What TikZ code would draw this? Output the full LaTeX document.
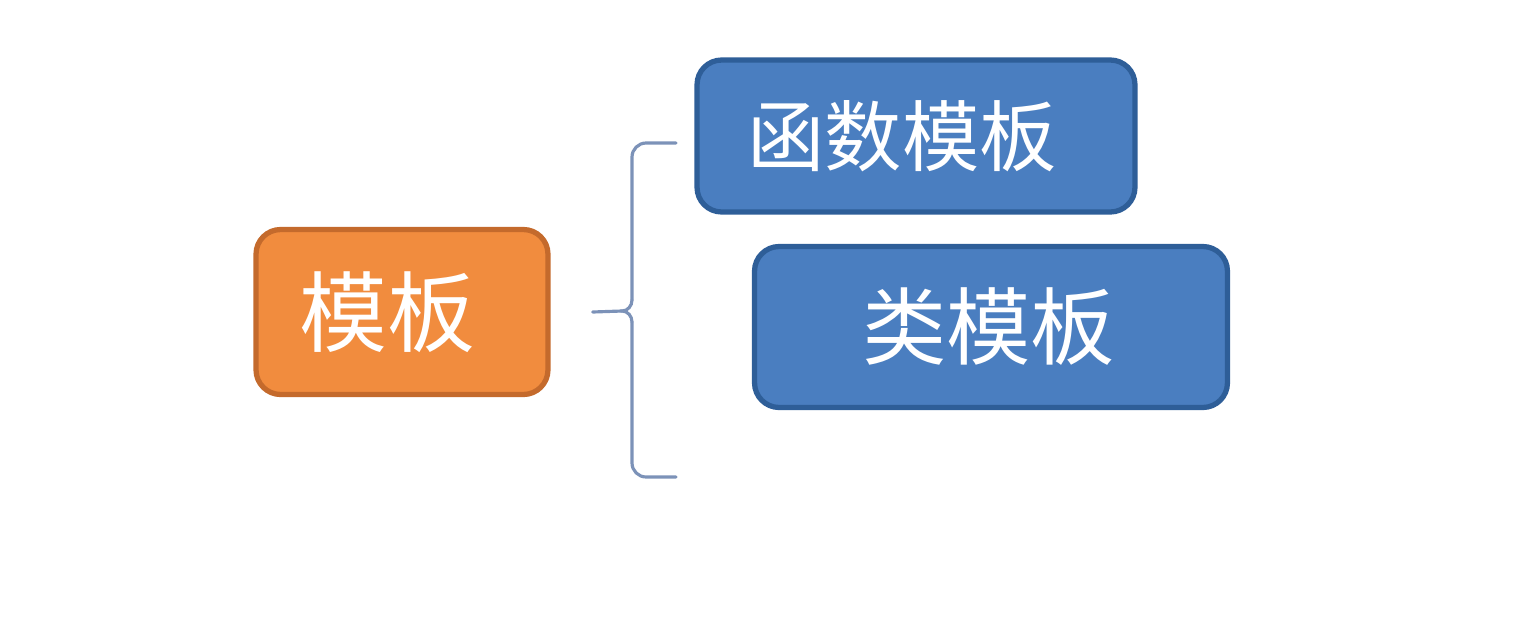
\documentclass[tikz,border=0pt]{standalone}
\usepackage{fontspec}
\usepackage{xcolor}
\newfontfamily\cjk{Noto Sans CJK SC}
\usetikzlibrary{positioning, calc}
\definecolor{rootfill}{HTML}{F18C3E}
\definecolor{rootline}{HTML}{C46A2C}
\definecolor{leaffill}{HTML}{4A7EC0}
\definecolor{leafline}{HTML}{2E5E98}
\definecolor{braceline}{HTML}{7C92B8}
\tikzstyle{root}  = [rectangle, rounded corners=14pt, minimum width=5.84cm, minimum height=3.3cm, text centered, draw=rootline, line width=3pt, fill=rootfill, text=white, font=\cjk\fontsize{50}{54}\selectfont]
\tikzstyle{leaf}  = [rectangle, rounded corners=14pt, minimum height=3.1cm, text centered, draw=leafline, line width=3pt, fill=leaffill, text=white, font=\cjk\fontsize{44}{48}\selectfont]
\tikzstyle{brace} = [draw=braceline, line width=1.8pt, line cap=round]

\begin{document}
\begin{tikzpicture}[x=0.02cm, y=-0.02cm]
    \useasboundingbox (0,0) rectangle (1536,640);
    \node (tpl)  [root] at (402,312) {模板\kern0.6cm};
    \node (ftpl) [leaf, minimum width=8.76cm, minimum height=3.04cm] at (916,136) {函数模板\kern0.55cm};
    \node (ctpl) [leaf, minimum width=9.46cm, minimum height=3.22cm, font=\cjk\fontsize{48}{52}\selectfont] at (991,327) {类模板\kern0.1cm};

    \coordinate (tip) at ($(tpl.east)+(42,0)$);
    \coordinate (mid) at (622,311);
    \coordinate (bt) at (676,143);
    \coordinate (bb) at (676,477);
    \draw [brace, rounded corners=8pt] (bt) -- (632,143) -- (632,300);
    \draw [brace] (632,300) to[out=-90, in=0] (mid) to[out=0, in=90] (632,322);
    \draw [brace, rounded corners=8pt] (632,322) -- (632,477) -- (bb);
    \draw [brace] (mid) -- (tip);
\end{tikzpicture}
\end{document}
